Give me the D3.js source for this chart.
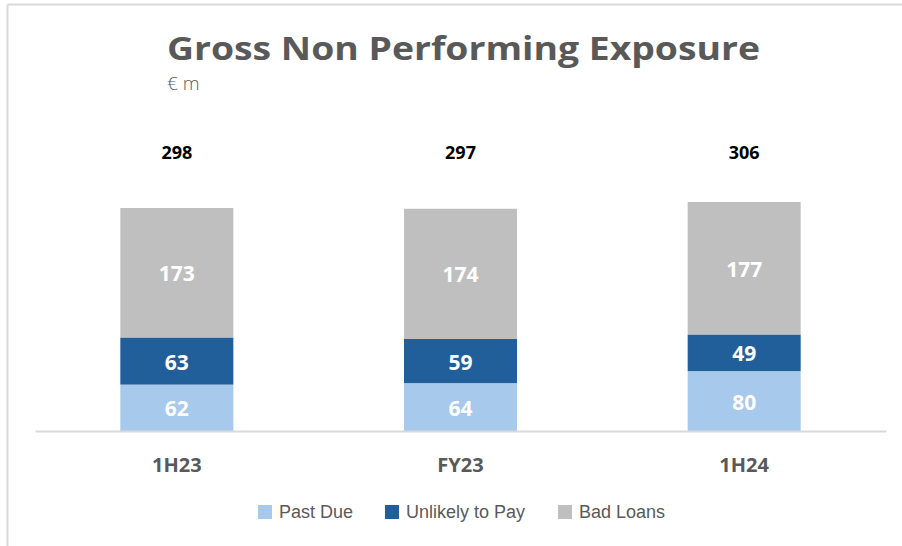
<!DOCTYPE html>
<html>
<head>
<meta charset="utf-8">
<script src="https://cdn.jsdelivr.net/npm/d3@7"></script>
<style>
  html, body { margin: 0; padding: 0; background: #fff; }
  svg { display: block; }
</style>
</head>
<body>
<svg id="chart" width="902" height="546"></svg>
<script>
const categories = ["1H23", "FY23", "1H24"];
const seriesNames = ["Past Due", "Unlikely to Pay", "Bad Loans"];
const pastDue = [62, 64, 80];
const unlikelyToPay = [63, 59, 49];
const badLoans = [173, 174, 177];
const totals = [298, 297, 306];
const colors = ["#a6c9ec", "#215f9a", "#bfbfbf"];

const svg = d3.select("#chart");
const W = 902, H = 546;

// frame
svg.append("line").attr("x1", 7.5).attr("x2", W).attr("y1", 4.5).attr("y2", 4.5)
  .attr("stroke", "#d9d9d9").attr("stroke-width", 2);
svg.append("line").attr("x1", 7.5).attr("x2", 7.5).attr("y1", 4.5).attr("y2", H)
  .attr("stroke", "#d9d9d9").attr("stroke-width", 2);

// title
svg.append("text").attr("x", 167).attr("y", 60)
  .attr("font-family", "'Open Sans', sans-serif").attr("font-weight", 700)
  .attr("font-size", 33).attr("fill", "#595959")
  .attr("textLength", 593).attr("lengthAdjust", "spacingAndGlyphs")
  .text("Gross Non Performing Exposure");
svg.append("text").attr("x", 167).attr("y", 90)
  .attr("font-family", "'Open Sans', sans-serif").attr("font-weight", 300)
  .attr("font-size", 19).attr("fill", "#595959")
  .text("€ m");

const x = d3.scaleBand().domain(categories).range([35, 886]).padding(0);
const y = d3.scaleLinear().domain([0, 298]).range([431, 208]);
const barW = 113;

const rows = categories.map((c, i) => ({ cat: c, vals: [pastDue[i], unlikelyToPay[i], badLoans[i]] }));

rows.forEach((r, i) => {
  let cum = 0;
  const cx = x(r.cat) + x.bandwidth() / 2;
  r.vals.forEach((v, s) => {
    const y0 = y(cum), y1 = y(cum + v);
    svg.append("rect").attr("x", cx - barW / 2).attr("y", y1)
      .attr("width", barW).attr("height", y0 - y1).attr("fill", colors[s]);
    svg.append("text").attr("x", cx).attr("y", (y0 + y1) / 2 + 1)
      .attr("dy", "0.36em").attr("text-anchor", "middle")
      .attr("font-family", "'Open Sans', sans-serif").attr("font-weight", 700)
      .attr("font-size", 21).attr("fill", "#ffffff")
      .text(v);
    cum += v;
  });
  svg.append("text").attr("x", cx).attr("y", 153).attr("dy", "0.36em")
    .attr("text-anchor", "middle")
    .attr("font-family", "'Open Sans', sans-serif").attr("font-weight", 700)
    .attr("font-size", 18).attr("fill", "#000000")
    .text(totals[i]);
});

// axis
const axis = svg.append("g").attr("transform", "translate(0,431)")
  .call(d3.axisBottom(x).tickSize(0).tickPadding(27));
axis.select(".domain").attr("stroke", "#d9d9d9").attr("stroke-width", 2);
axis.selectAll("text")
  .attr("font-family", "'Open Sans', sans-serif").attr("font-weight", 700)
  .attr("font-size", 20).attr("fill", "#595959");

// legend
const legendX = [258, 385, 558];
seriesNames.forEach((n, i) => {
  const g = svg.append("g").attr("transform", `translate(${legendX[i]},505)`);
  g.append("rect").attr("width", 14).attr("height", 14).attr("fill", colors[i]);
  g.append("text").attr("x", 21).attr("y", 7).attr("dy", "0.36em")
    .attr("font-family", "'Liberation Sans', sans-serif")
    .attr("font-size", 18).attr("fill", "#595959")
    .text(n);
});
</script>
</body>
</html>
